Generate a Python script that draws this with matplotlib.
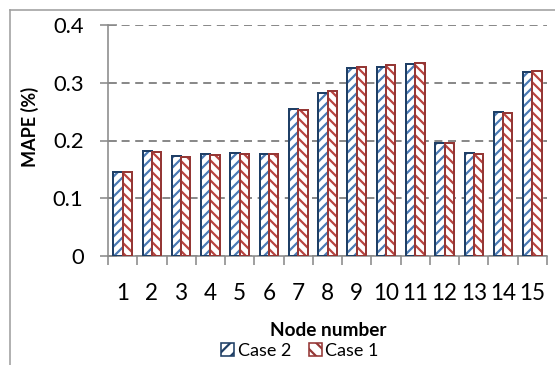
import matplotlib
matplotlib.use("Agg")
import matplotlib.pyplot as plt
import numpy as np
from matplotlib.patches import Patch
from matplotlib.lines import Line2D

# MAPE per node for the two cases
nodes = [str(i) for i in range(1, 16)]
case2 = [0.146, 0.182, 0.174, 0.177, 0.178, 0.177, 0.254, 0.282, 0.325,
         0.328, 0.332, 0.196, 0.178, 0.249, 0.318]
case1 = [0.145, 0.180, 0.172, 0.175, 0.176, 0.176, 0.252, 0.285, 0.327,
         0.330, 0.334, 0.195, 0.176, 0.248, 0.320]
y_ticks = [0, 0.1, 0.2, 0.3, 0.4]
y_labels = ["0", "0.1", "0.2", "0.3", "0.4"]

DPI = 120
W, H = 555, 365
PX = 72.0 / DPI  # points per pixel

plt.rcParams["font.family"] = ["Lato", "DejaVu Sans"]
plt.rcParams["hatch.linewidth"] = 2.2 * PX

fig = plt.figure(figsize=(W / DPI, H / DPI), dpi=DPI)
ax = fig.add_axes([108 / W, 1 - 256 / H, (547 - 108) / W, (256 - 25) / H])

blue_edge, blue_hatch = "#1F3F66", "#4A7AB5"
red_edge, red_hatch = "#953735", "#B9423F"
grey = "#8A8A8A"

x = np.arange(1, len(nodes) + 1)
bw = 0.318

for vals, off, ec, hc, hatch in [(case2, -bw / 2, blue_edge, blue_hatch, "////"),
                                 (case1, bw / 2, red_edge, red_hatch, "\\\\\\\\")]:
    ax.bar(x + off, vals, bw, facecolor="white", edgecolor=hc, linewidth=0,
           hatch=hatch, zorder=2)
    ax.bar(x + off, vals, bw, facecolor="none", edgecolor=ec,
           linewidth=2.0 * PX, zorder=3)

ax.set_xlim(0.5, len(nodes) + 0.5)
ax.set_ylim(0, 0.4)

ax.set_yticks(y_ticks, y_labels)
ax.set_xticks(x, nodes)
ax.set_xticks(np.arange(0.5, len(nodes) + 1, 1.0), minor=True)

ax.tick_params(axis="y", direction="inout", length=17 * PX, width=1.6 * PX,
               color=grey, pad=16 * PX, labelsize=22 * PX)
ax.tick_params(axis="x", which="major", length=0, pad=27 * PX,
               labelsize=22.5 * PX)
ax.tick_params(axis="x", which="minor", direction="out", length=9 * PX,
               width=1.6 * PX, color=grey)

for side in ("top", "right"):
    ax.spines[side].set_visible(False)
for side in ("left", "bottom"):
    ax.spines[side].set_color(grey)
    ax.spines[side].set_linewidth(1.6 * PX)

ax.set_axisbelow(True)
ax.yaxis.grid(True, color=grey, linewidth=2.0 * PX, linestyle=(0, (4, 2.8)))

fig.text(29.5 / W, 1 - 127 / H, "MAPE (%)", rotation=90, ha="center",
         va="center", fontsize=18 * PX, fontweight="bold")
fig.text(328 / W, 1 - 336.5 / H, "Node number", ha="center", va="baseline",
         fontsize=19 * PX, fontweight="bold")

handles = [Patch(facecolor="white", edgecolor=blue_edge, hatch="///",
                 linewidth=1.6 * PX, label="Case 2"),
           Patch(facecolor="white", edgecolor=red_edge, hatch="\\\\\\",
                 linewidth=1.6 * PX, label="Case 1")]
fig.legend(handles=handles, loc="center", bbox_to_anchor=(300 / W, 1 - 351 / H),
           ncol=2, frameon=False, fontsize=18 * PX, handlelength=0.7,
           handleheight=0.7, handletextpad=0.2, columnspacing=1.0,
           borderpad=0, borderaxespad=0)

# outer chart frame
fig.add_artist(Line2D([10 / W, 1.0], [1 - 10 / H, 1 - 10 / H],
                      transform=fig.transFigure, color="#A0A0A0",
                      linewidth=1.6 * PX))
fig.add_artist(Line2D([10 / W, 10 / W], [1 - 10 / H, 0.0],
                      transform=fig.transFigure, color="#A0A0A0",
                      linewidth=1.6 * PX))

fig.savefig("out.png", dpi=DPI)
